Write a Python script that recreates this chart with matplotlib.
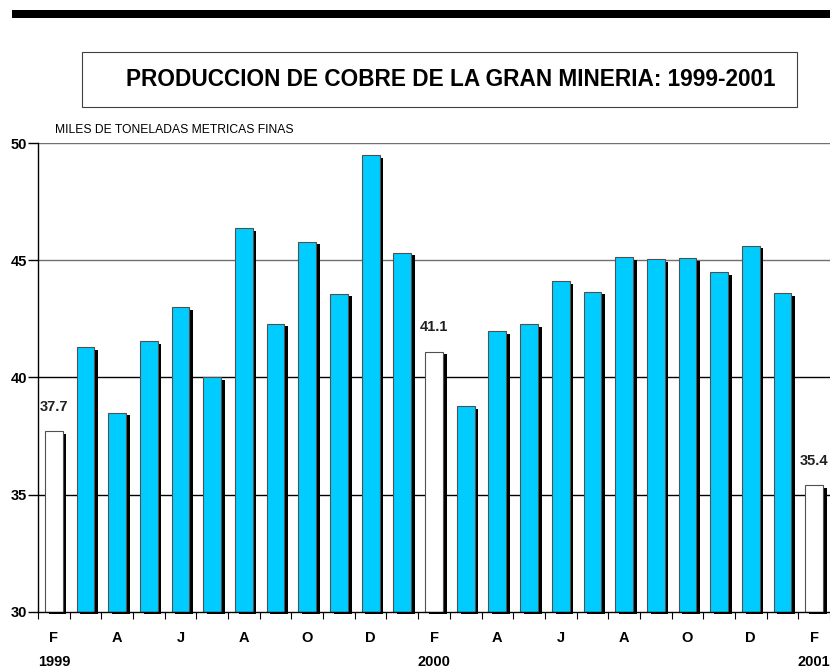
import numpy as np
import matplotlib
matplotlib.use('Agg')
import matplotlib.pyplot as plt
from matplotlib.patches import Rectangle

plt.rcParams['font.family'] = ['Liberation Sans', 'DejaVu Sans']

# monthly production, feb 1999 .. feb 2001 (miles de toneladas)
months = ['F', 'M', 'A', 'M', 'J', 'J', 'A', 'S', 'O', 'N', 'D', 'E',
          'F', 'M', 'A', 'M', 'J', 'J', 'A', 'S', 'O', 'N', 'D', 'E', 'F']
values = [37.7, 41.3, 38.5, 41.55, 43.0, 40.0, 46.37, 42.3, 45.8, 43.58, 49.5, 45.33,
          41.1, 38.78, 41.97, 42.28, 44.1, 43.66, 45.15, 45.05, 45.09, 44.49, 45.63, 43.6, 35.4]
labelled = {0: '37.7', 12: '41.1', 24: '35.4'}   # february bars, drawn white
years = {0: '1999', 12: '2000', 24: '2001'}
yticks = [30, 35, 40, 45, 50]

W, H = 830, 668
fig = plt.figure(figsize=(W / 100, H / 100), dpi=100)

# thick black band at the top
fig.patches.append(Rectangle((12 / W, 1 - 18 / H), 1, 8 / H, transform=fig.transFigure,
                             facecolor='black', edgecolor='none'))
# title box
fig.patches.append(Rectangle((82 / W, 1 - 107 / H), 715 / W, 55 / H, transform=fig.transFigure,
                             facecolor='white', edgecolor='#404040', linewidth=0.8))
fig.text(451 / W, 1 - 80 / H, 'PRODUCCION DE COBRE DE LA GRAN MINERIA: 1999-2001',
         ha='center', va='center', fontsize=16.3, fontweight='bold')

ax = fig.add_axes([38 / W, 1 - 611.7 / H, 792 / W, 468.4 / H])
ax.set_xlim(-0.5, 24.5)
ax.set_ylim(30, 50)

x = np.arange(len(values))
w = 0.56
colors = ['white' if i in labelled else '#00CCFF' for i in x]
heights = np.array(values) - 30

# shadows (offset right and down)
ax.bar(x + 0.117, heights, w, bottom=30 - 0.115, color='black', zorder=2, clip_on=False)
ax.bar(x, heights, w, bottom=30, color=colors, edgecolor='#505050', linewidth=0.8, zorder=3)

for i, t in labelled.items():
    ax.text(x[i], values[i] + 1.05, t, ha='center', va='center',
            fontsize=10.5, fontweight='bold', color='#202020', zorder=4)

# gridlines
for v in yticks[1:]:
    ax.axhline(v, color='#707070' if v >= 45 else 'black', linewidth=1.0, zorder=1)

for s in ['top', 'right']:
    ax.spines[s].set_visible(False)
ax.spines['left'].set_linewidth(1.0)
ax.spines['bottom'].set_linewidth(1.0)
ax.spines['bottom'].set_zorder(4)

ax.set_yticks(yticks)
ax.set_yticklabels([str(v) for v in yticks], fontweight='bold', fontsize=10.5)
ax.tick_params(axis='y', length=7, width=1, pad=1)

ax.set_xticks(x[::2])
ax.set_xticklabels(months[::2], fontweight='bold', fontsize=10.5)
ax.set_xticks(np.arange(-0.5, 25, 1), minor=True)
ax.tick_params(axis='x', which='major', length=0, pad=14)
ax.tick_params(axis='x', which='minor', length=5, width=0.8)

for i, t in years.items():
    ax.text(x[i], 27.85, t, ha='center', va='center', fontsize=10.5, fontweight='bold')

ax.text(0.03, 50.55, 'MILES DE TONELADAS METRICAS FINAS', fontsize=8.7, va='center', ha='left')

fig.savefig('out.png', dpi=100)
